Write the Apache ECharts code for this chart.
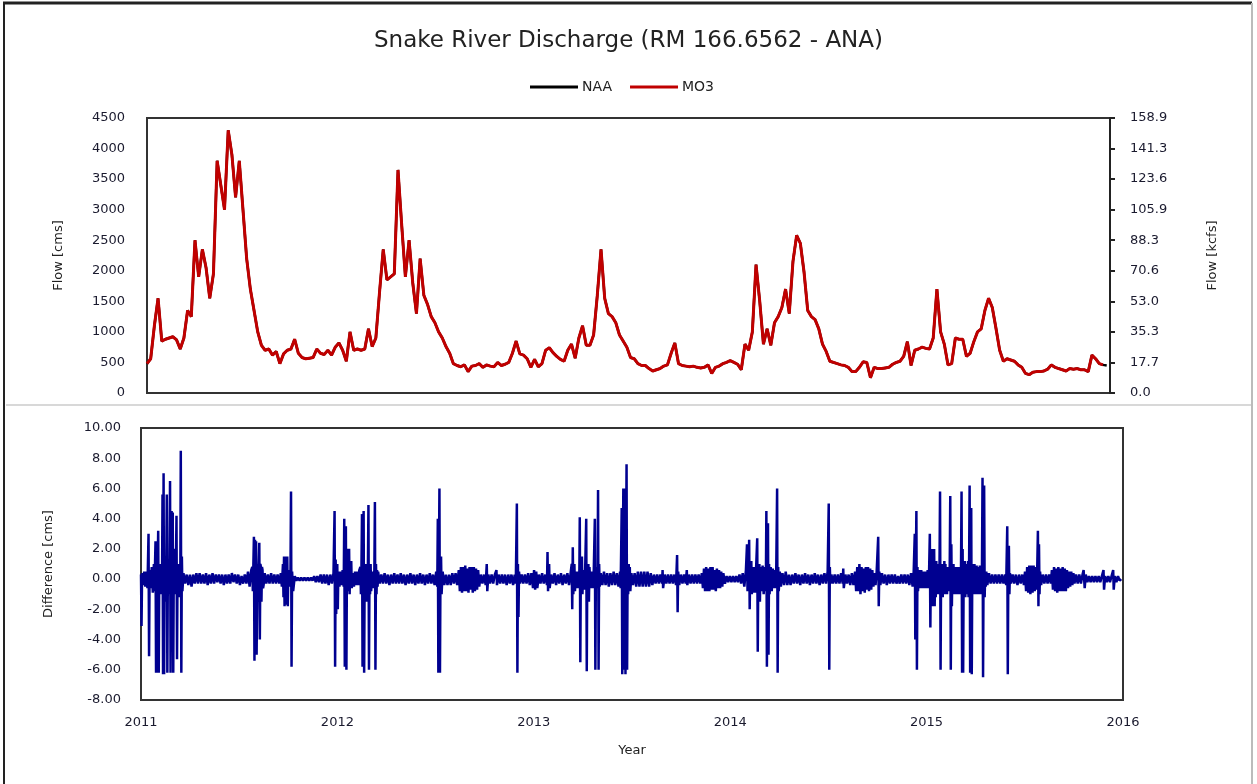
<!DOCTYPE html>
<html><head><meta charset="utf-8">
<script src="https://cdn.jsdelivr.net/npm/echarts@6/dist/echarts.min.js"></script>
<style>html,body{margin:0;padding:0;background:#fff}#c{width:1257px;height:784px}</style>
</head><body><div id="c"></div><script>
// ---- data ----
const startYear = 2011;
const yearTicks = [2011, 2012, 2013, 2014, 2015, 2016];
// weekly flow (cms) from 2011-01-01, MO3
const flowMO3 = [
480,560,1100,1550,850,880,900,920,870,720,
900,1350,1250,2500,1900,2350,2050,1550,1950,3800,
3400,3000,4300,3900,3200,3800,3000,2200,1700,1350,
1000,780,700,720,620,680,480,640,700,720,
880,650,580,560,570,580,720,650,630,700,
620,750,820,700,520,1000,700,720,700,720,
1050,760,900,1650,2350,1850,1900,1950,3650,2750,
1900,2500,1800,1300,2200,1600,1450,1250,1150,1000,
900,760,650,480,450,430,460,350,440,450,
480,420,460,440,430,500,450,470,500,650,
850,640,620,560,420,550,430,480,700,740,
660,600,550,520,700,800,570,900,1100,780,
780,950,1600,2350,1550,1300,1250,1150,950,850,
750,580,560,480,450,450,400,360,380,400,
440,460,650,820,480,450,440,430,440,420,
410,420,460,320,420,440,480,500,530,500,
470,380,800,700,1000,2100,1500,800,1050,780,
1150,1250,1400,1700,1300,2150,2580,2450,1980,1350,
1250,1200,1050,800,680,520,500,480,460,450,
420,350,350,420,510,500,250,420,400,400,
410,420,470,500,520,600,840,450,700,720,
750,730,720,900,1700,1000,800,460,480,900,
880,880,600,650,840,1000,1050,1350,1550,1400,
1060,700,520,560,540,520,460,420,320,300,
340,350,350,360,390,460,420,400,380,360,
400,390,400,380,380,350,620,560,480,460
];
// NAA is hidden under MO3 except for its last point
const flowNAA = flowMO3.concat([450]);
// difference (cms): [day since 2011-01-01, value]
const diffPoints = [
[0,0.3],[1,-3.1],[2,0.4],[4,-0.4],[6,0.5],[8,-0.5],[10,0.5],[12,-0.6],[14,3.0],[15,-5.1],[16,0.6],[18,-0.6],[20,0.8],[22,-0.9],[24,1.0],[25,-0.8],
[27,2.5],[28,-6.2],[29,2.0],[30,-6.2],[31,1.0],[32,3.2],[33,-6.2],[34,1.0],[35,-1.0],[36,1.0],[37,-1.0],[38,0.8],[39,-1.0],
[40,5.6],[41,-6.3],[42,7.0],[43,-6.3],[44,1.0],[45,1.5],[46,-1.5],[47,1.0],[48,5.6],[49,-6.2],[50,1.0],[51,1.2],[52,-1.0],[53,1.0],
[54,6.5],[55,-6.2],[56,1.0],[57,4.5],[58,-2.5],[59,4.4],[60,-6.2],[61,1.0],[62,-1.0],[63,2.0],[64,-1.0],[65,1.0],[66,4.2],[67,-5.3],[68,1.0],[69,-1.0],
[70,1.0],[71,-1.2],[72,0.8],[73,-0.8],[74,8.5],[75,-6.2],[76,1.5],[77,-0.8],
[79,0.4],[82,-0.3],[85,0.3],[88,-0.4],[91,0.3],[94,-0.5],[97,0.3],[100,-0.3],[103,0.4],[106,-0.3],[109,0.4],[112,-0.3],[115,0.3],[118,-0.3],[121,0.4],[124,-0.4],[127,0.3],[130,-0.3],[133,0.4],[136,-0.3],[139,0.3],[142,-0.2],[145,0.3],[148,-0.3],[151,0.3],[154,-0.4],[157,0.3],[160,-0.3],[163,0.3],[166,-0.3],[169,0.4],[172,-0.2],[175,0.3],[178,-0.3],[181,0.3],[184,-0.4],[187,0.2],[190,-0.3],[193,0.3],[196,-0.3],[199,0.5],[202,-0.5],[205,0.6],
[207,0.8],[208,-0.8],[209,1.0],[210,2.8],[211,-5.4],[212,2.6],[213,-4.0],[214,2.5],[215,-5.0],[216,-1.0],[217,1.0],[218,-1.5],[219,1.0],[220,2.4],[221,-4.0],[222,1.0],[223,0.8],[224,-1.5],[225,0.8],[226,0.6],[227,-0.6],[228,-0.4],
[230,0.4],[233,-0.3],[236,0.3],[239,-0.3],[242,0.4],[245,-0.3],[248,0.3],[251,-0.3],[254,0.3],[257,-0.3],[260,0.4],[262,-0.5],
[264,1.0],[265,-1.2],[266,1.5],[267,-1.8],[268,1.5],[269,-1.7],[270,1.4],[271,-1.0],[272,1.5],[273,-1.8],[274,0.6],[275,-0.5],[276,0.5],[277,-0.4],[278,0.5],[279,5.8],[280,-5.8],[281,0.5],[282,0.5],[283,-0.8],
[286,0.2],[289,-0.1],[292,0.1],[295,-0.1],[298,0.1],[301,-0.1],[304,0.1],[307,-0.1],[310,0.1],[313,-0.1],[316,0.1],[319,-0.1],[322,0.2],[325,-0.2],[328,0.2],[331,-0.2],[334,0.3],[337,-0.3],[340,0.3],[343,-0.3],[346,0.3],[349,-0.4],[352,0.3],[355,-0.3],[358,0.4],
[360,4.5],[361,-5.8],[362,1.3],[363,-2.3],[364,0.6],[365,1.0],[366,-2.0],[367,0.5],[369,-0.5],[371,0.5],[373,-0.4],[375,0.6],[377,-0.5],[378,4.0],[379,-5.8],[380,1.0],[381,3.5],[382,-6.0],[383,1.0],[384,2.0],[385,-0.8],[386,0.8],[387,2.0],[388,-1.0],[389,0.8],[390,-0.6],[391,1.2],[392,-0.6],[394,0.4],[396,-0.5],[398,0.5],[400,-0.4],[402,0.5],[404,-0.4],[406,0.6],
[408,0.8],[409,-1.0],[410,0.8],[411,4.3],[412,-5.8],[413,1.0],[414,4.5],[415,-6.2],[416,0.8],[417,-1.0],[418,1.0],[419,-1.5],[420,0.6],[421,-0.6],[422,0.8],[423,4.9],[424,-6.0],[425,1.0],[426,-1.0],[427,1.0],[428,-0.8],[430,0.5],[432,-0.6],[434,0.6],[435,5.1],[436,-6.0],[437,1.0],[438,-1.0],[439,0.6],[440,-0.5],[441,0.5],
[444,-0.3],[447,0.3],[450,-0.3],[453,0.4],[456,-0.3],[459,0.3],[462,-0.4],[465,0.3],[468,-0.3],[471,0.4],[474,-0.3],[477,0.3],[480,-0.3],[483,0.4],[486,-0.3],[489,0.3],[492,-0.4],[495,0.3],[498,-0.3],[501,0.4],[504,-0.3],[507,0.3],[510,-0.4],[513,0.3],[516,-0.3],[519,0.4],[522,-0.3],[525,0.3],[528,-0.4],[531,0.3],[534,-0.3],[537,0.4],[540,-0.3],[543,0.3],[546,-0.4],[549,0.5],
[551,-0.5],[552,4.0],[553,-6.2],[554,1.0],[555,6.0],[556,-6.2],[557,1.0],[558,1.5],[559,-1.0],
[561,0.5],[564,-0.4],[567,0.3],[570,-0.4],[573,0.3],[576,-0.4],[579,0.4],[582,-0.3],[585,0.4],[588,-0.4],[591,0.6],
[593,-0.8],[595,0.8],[597,-0.9],[599,0.8],[601,-0.8],[603,0.9],[605,-0.8],[607,0.7],[609,-0.9],[611,0.8],[613,-0.7],[615,0.8],[617,-0.9],[619,0.8],[621,-0.8],[623,0.7],[625,-0.7],[627,0.6],[629,-0.5],
[632,0.3],[635,-0.3],[638,0.3],[641,-0.4],[643,1.0],[644,-0.8],[646,0.3],[649,-0.3],[652,0.3],[655,-0.3],[658,0.3],[661,0.6],[662,-0.4],[665,0.3],[668,-0.3],[671,0.3],[674,-0.3],[677,0.3],[680,-0.4],[683,0.3],[686,-0.3],[689,0.3],[692,-0.4],[695,0.3],[697,-0.3],
[699,5.0],[700,-6.2],[701,1.0],[702,-2.5],[703,0.5],
[705,-0.3],[708,0.3],[711,-0.3],[714,0.3],[717,-0.3],[720,0.4],[723,-0.4],[726,0.4],[729,-0.6],[731,0.6],[733,-0.7],[735,0.5],[737,-0.6],[740,0.3],[743,-0.3],[746,0.4],[749,-0.3],[752,0.3],[755,-0.4],[756,1.8],[757,-0.8],[758,0.6],[759,1.0],[760,-0.6],[763,0.3],[766,-0.3],[769,0.4],[772,-0.4],[775,0.3],[778,-0.3],[781,0.4],[784,-0.4],[787,0.3],[790,-0.3],[793,0.4],[796,-0.4],[799,0.4],
[801,1.0],[802,-2.0],[803,2.1],[804,-1.0],[805,0.6],[806,1.0],[807,-0.8],[809,0.5],[811,-0.6],[813,0.5],[815,-0.6],
[816,4.1],[817,-5.5],[818,0.8],[819,-1.0],[820,1.5],[821,-1.0],[822,0.6],[824,-0.7],[826,0.6],
[828,4.0],[829,-6.1],[830,0.8],[831,-1.0],[832,1.0],[833,-1.5],[834,0.8],[836,-0.6],[838,0.5],[840,-0.6],[842,0.5],
[844,4.0],[845,-6.0],[846,0.8],[847,-0.6],[848,0.6],[849,-0.5],[850,5.9],[851,-6.0],[852,1.0],[853,-0.5],
[855,0.4],[858,-0.4],[861,0.5],[864,-0.4],[867,0.4],[870,-0.5],[873,0.4],[876,-0.4],[879,0.5],[882,-0.4],[885,0.4],[888,-0.5],[891,0.5],[892,-0.6],
[894,4.7],[895,-6.3],[896,1.0],[897,6.0],[898,-6.0],[899,1.0],[900,6.0],[901,-6.3],[902,1.0],[903,7.6],[904,-6.0],[905,0.8],[906,-1.0],[907,1.0],[908,-0.8],[909,0.8],[910,-0.8],
[912,0.4],[915,-0.4],[918,0.4],[921,-0.5],[924,0.5],[927,-0.5],[930,0.5],[933,-0.5],[936,0.5],[939,-0.5],[942,0.5],[945,-0.5],[948,0.4],[951,-0.4],[954,0.3],[957,-0.3],[960,0.3],[963,-0.3],[966,0.3],[969,-0.3],[970,0.6],[971,-0.6],[974,0.3],[977,-0.3],[980,0.3],[983,-0.3],[986,0.3],[989,-0.3],[992,0.3],[995,-0.4],
[997,1.6],[998,-2.2],[999,0.5],[1001,-0.4],
[1004,0.3],[1007,-0.3],[1010,0.3],[1013,-0.3],[1015,0.6],[1016,-0.4],[1019,0.3],[1022,-0.3],[1025,0.3],[1028,-0.3],[1031,0.3],[1034,-0.3],[1037,0.3],[1040,-0.3],[1043,0.4],
[1045,-0.6],[1047,0.7],[1049,-0.8],[1051,0.8],[1053,-0.8],[1055,0.7],[1057,-0.8],[1059,0.8],[1061,-0.7],[1063,0.8],[1065,-0.7],[1067,0.6],[1069,-0.8],[1071,0.7],[1073,-0.6],[1075,0.6],[1077,-0.6],[1079,0.5],[1081,-0.5],[1083,0.4],
[1086,-0.3],[1089,0.2],[1092,-0.2],[1095,0.2],[1098,-0.2],[1101,0.2],[1104,-0.2],[1107,0.2],[1110,-0.2],[1113,0.3],[1116,-0.3],[1119,0.4],[1122,-0.5],[1125,0.6],
[1127,2.3],[1128,-0.8],[1129,0.8],[1130,-0.8],[1131,2.6],[1132,-2.0],[1133,0.8],[1134,-0.8],[1135,1.2],[1136,-1.0],[1137,0.8],[1139,-0.9],[1141,0.8],[1143,-0.9],[1144,0.8],
[1146,2.7],[1147,-4.8],[1148,0.8],[1149,-1.0],[1150,1.0],[1151,-1.5],[1152,0.8],[1154,-0.8],[1156,0.9],[1158,-1.0],[1160,0.8],[1162,-0.8],
[1163,4.5],[1164,-5.8],[1165,0.8],[1166,3.7],[1167,-5.0],[1168,1.0],[1169,-1.0],[1171,0.8],[1173,-0.8],[1175,0.7],[1177,-0.6],[1179,0.6],[1181,-0.6],
[1183,6.0],[1184,-6.2],[1185,0.8],[1186,-0.8],[1188,0.5],
[1190,-0.5],[1193,0.4],[1196,-0.4],[1199,0.5],[1202,-0.4],[1205,0.3],[1208,-0.4],[1211,0.3],[1214,-0.3],[1217,0.4],[1220,-0.3],[1223,0.3],[1226,-0.4],[1229,0.3],[1232,-0.3],[1235,0.4],[1238,-0.3],[1241,0.3],[1244,-0.4],[1247,0.3],[1250,-0.3],[1253,0.4],[1256,-0.3],[1259,0.3],[1262,-0.4],[1265,0.3],[1268,-0.3],[1271,0.4],[1274,-0.3],[1277,0.5],
[1279,5.0],[1280,-6.0],[1281,0.8],[1282,-0.3],
[1284,0.3],[1287,-0.3],[1290,0.3],[1293,-0.3],[1296,0.3],[1299,-0.3],[1302,0.4],[1305,-0.3],[1306,0.7],[1307,-0.6],[1310,0.3],[1313,-0.3],[1316,0.3],[1319,-0.4],[1322,0.4],[1325,-0.4],[1328,0.5],
[1330,-0.8],[1332,0.8],[1334,-0.8],[1336,1.0],[1338,-1.0],[1340,0.8],[1342,-0.8],[1344,0.7],[1346,-0.9],[1348,0.8],[1350,-0.7],[1352,0.8],[1354,-0.8],[1356,0.7],[1358,-0.7],[1360,0.6],[1362,-0.5],[1364,0.4],[1366,-0.4],[1368,0.4],
[1371,2.8],[1372,-1.8],[1373,0.5],
[1375,-0.4],[1378,0.4],[1381,-0.3],[1384,0.3],[1387,-0.4],[1390,0.3],[1393,-0.3],[1396,0.3],[1399,-0.3],[1402,0.3],[1405,-0.3],[1408,0.2],[1411,-0.3],[1414,0.3],[1417,-0.3],[1420,0.3],[1423,-0.3],[1426,0.3],[1429,-0.4],[1432,0.4],[1435,-0.5],[1437,0.5],
[1439,3.0],[1440,-4.0],[1441,1.0],[1442,4.5],[1443,-6.0],[1444,0.8],[1445,-0.8],[1447,0.6],[1449,-0.6],[1451,0.6],[1453,-0.6],[1455,0.5],[1457,-0.6],[1459,0.5],[1461,-0.6],[1463,0.6],[1465,-0.6],
[1467,3.0],[1468,-3.2],[1469,1.0],[1470,-1.8],[1471,2.0],[1472,-1.8],[1473,1.5],[1474,-1.5],[1475,2.0],[1476,-1.8],[1477,1.0],[1478,-1.2],[1479,1.2],[1480,-1.0],[1481,1.0],[1482,-1.0],[1483,1.0],[1484,-1.0],[1485,0.8],
[1486,5.8],[1487,-6.0],[1488,0.8],[1489,-0.8],[1490,1.0],[1491,-1.2],[1492,1.0],[1493,-1.0],[1494,1.2],[1495,-0.8],[1496,1.0],[1497,-1.0],[1498,0.8],[1499,-1.0],[1500,0.8],[1501,-0.8],[1502,0.8],[1503,-0.8],[1504,0.8],
[1505,5.5],[1506,-6.0],[1507,2.3],[1508,-1.8],[1509,0.8],[1510,-0.8],[1511,1.0],[1512,-1.0],[1513,0.8],[1514,-1.0],[1515,0.8],[1516,-1.0],[1517,0.8],[1518,-0.8],[1519,0.8],[1520,-1.0],[1521,0.8],[1522,-1.0],[1523,0.8],[1524,-0.8],[1525,0.8],
[1526,5.8],[1527,-6.2],[1528,2.0],[1529,-6.2],[1530,1.0],[1531,-1.0],[1532,1.2],[1533,-1.2],[1534,1.0],[1535,-1.0],[1536,1.0],[1537,-1.0],[1538,1.2],[1539,-1.2],[1540,0.8],
[1541,6.2],[1542,-6.2],[1543,1.0],[1544,4.7],[1545,-6.3],[1546,1.0],[1547,-1.0],[1548,1.0],[1549,-1.0],[1550,1.0],[1551,-1.0],[1552,0.8],[1553,-0.9],[1554,0.9],[1555,-1.0],[1556,0.8],[1557,-1.0],[1558,0.8],[1559,-0.9],[1560,0.9],[1561,-1.0],[1562,0.8],[1563,-0.8],[1564,0.8],
[1565,6.7],[1566,-6.5],[1567,1.0],[1568,6.2],[1569,-1.2],[1570,0.5],[1571,-0.5],[1572,0.5],
[1574,-0.4],[1577,0.4],[1580,-0.3],[1583,0.3],[1586,-0.3],[1589,0.3],[1592,-0.3],[1595,0.3],[1598,-0.3],[1601,0.3],[1604,-0.3],[1607,0.3],[1609,-0.4],
[1611,3.5],[1612,-6.3],[1613,0.8],[1614,2.2],[1615,-1.0],[1616,0.4],
[1618,-0.3],[1621,0.3],[1624,-0.3],[1627,0.3],[1630,-0.4],[1633,0.3],[1636,-0.3],[1639,0.3],[1642,-0.4],[1644,0.5],
[1646,-0.8],[1648,0.8],[1650,-0.9],[1652,0.9],[1654,-1.0],[1656,0.9],[1658,-0.9],[1660,0.9],[1662,-0.8],[1664,0.8],[1666,-0.7],
[1668,3.2],[1669,-1.8],[1670,2.3],[1671,-1.0],[1672,0.5],
[1674,-0.4],[1677,0.3],[1680,-0.3],[1683,0.3],[1686,-0.3],[1689,0.3],[1692,-0.3],
[1694,0.6],[1696,-0.7],[1698,0.8],[1700,-0.8],[1702,0.7],[1704,-0.9],[1706,0.8],[1708,-0.8],[1710,0.7],[1712,-0.8],[1714,0.8],[1716,-0.8],[1718,0.7],[1720,-0.8],[1722,0.6],[1724,-0.6],[1726,0.5],[1728,-0.5],[1730,0.5],[1732,-0.4],[1734,0.4],[1736,-0.3],
[1739,0.3],[1742,-0.3],[1745,0.3],[1748,-0.3],[1751,0.3],[1753,0.6],[1755,-0.6],[1757,0.3],[1760,-0.2],[1763,0.2],[1766,-0.2],[1769,0.2],[1772,-0.2],[1775,0.2],[1778,-0.2],[1781,0.2],[1784,-0.2],[1787,0.2],[1790,0.6],[1791,-0.7],[1793,0.2],[1796,-0.2],[1799,0.2],[1802,-0.2],[1805,0.2],[1808,0.6],[1809,-0.7],[1811,0.2],[1814,-0.2],[1817,0.2],[1820,-0.1],[1823,0.0]
];
const CMS_TO_KCFS = 0.0353147;

// ---- build ----
const weekToYear = i => startYear + i * 7 / 365.25;
const dayToYear = d => startYear + d / 365.25;
const mo3Data = flowMO3.map((v, i) => [weekToYear(i), v]);
const naaData = flowNAA.map((v, i) => [weekToYear(i), v]);
const diffData = diffPoints.map(p => [dayToYear(p[0]), p[1]]);

const FONT = 'DejaVu Sans';
const labelStyle = {fontFamily: FONT, fontSize: 13, color: '#1a1a2e'};
const nameStyle = {fontFamily: FONT, fontSize: 13, color: '#222'};

const chart = echarts.init(document.getElementById('c'), null, {renderer: 'canvas'});
chart.setOption({
  animation: false,
  backgroundColor: '#fff',
  title: {
    text: 'Snake River Discharge (RM 166.6562 - ANA)',
    left: 'center', top: 25,
    textStyle: {fontFamily: FONT, fontSize: 23, fontWeight: 'normal', color: '#222'}
  },
  legend: {
    data: ['NAA', 'MO3'],
    top: 75, left: 525,
    icon: 'rect', itemWidth: 48, itemHeight: 3, itemGap: 18,
    textStyle: {fontFamily: FONT, fontSize: 14, color: '#222', padding: [0, 0, 0, -1]}
  },
  grid: [
    {left: 147, top: 118, width: 963, height: 275, show: true, borderColor: '#333', borderWidth: 2},
    {left: 141, top: 428, width: 982, height: 272, show: true, borderColor: '#333', borderWidth: 2}
  ],
  xAxis: [
    {gridIndex: 0, type: 'value', min: 2011, max: 2016, interval: 1,
     axisLine: {show: false}, axisTick: {show: false}, axisLabel: {show: false}, splitLine: {show: false}},
    {gridIndex: 1, type: 'value', min: 2011, max: 2016, interval: 1,
     axisLine: {show: false}, axisTick: {show: false}, splitLine: {show: false},
     axisLabel: Object.assign({margin: 16, formatter: v => yearTicks.includes(v) ? String(v) : ''}, labelStyle),
     name: 'Year', nameLocation: 'middle', nameGap: 44, nameTextStyle: nameStyle}
  ],
  yAxis: [
    {gridIndex: 0, type: 'value', min: 0, max: 4500, interval: 500,
     axisLine: {show: false}, axisTick: {show: false}, splitLine: {show: false},
     axisLabel: Object.assign({margin: 22, formatter: v => String(v)}, labelStyle),
     name: 'Flow [cms]', nameLocation: 'middle', nameGap: 82, nameTextStyle: nameStyle},
    {gridIndex: 0, type: 'value', position: 'right', min: 0, max: 4500, interval: 500,
     axisLine: {show: true, lineStyle: {color: '#222', width: 2}},
     axisTick: {show: true, length: 5, lineStyle: {color: '#222', width: 2}},
     splitLine: {show: false},
     axisLabel: Object.assign({margin: 20, formatter: v => (v * CMS_TO_KCFS).toFixed(1)}, labelStyle),
     name: 'Flow [kcfs]', nameLocation: 'middle', nameGap: 96, nameTextStyle: nameStyle},
    {gridIndex: 1, type: 'value', min: -8, max: 10, interval: 2,
     axisLine: {show: false}, axisTick: {show: false}, splitLine: {show: false},
     axisLabel: Object.assign({margin: 20, formatter: v => v.toFixed(2)}, labelStyle),
     name: 'Difference [cms]', nameLocation: 'middle', nameGap: 86, nameTextStyle: nameStyle}
  ],
  series: [
    {name: 'NAA', type: 'line', xAxisIndex: 0, yAxisIndex: 0, data: naaData, showSymbol: false,
     color: '#000', lineStyle: {color: '#000', width: 2.5}},
    {name: 'MO3', type: 'line', xAxisIndex: 0, yAxisIndex: 0, data: mo3Data, showSymbol: false,
     color: '#C00000', lineStyle: {color: '#C00000', width: 3}},
    {name: 'Difference', type: 'line', xAxisIndex: 1, yAxisIndex: 2, data: diffData, showSymbol: false,
     color: '#000090', lineStyle: {color: '#000090', width: 2.5}}
  ],
  graphic: [
    {type: 'line', shape: {x1: 3, y1: 3, x2: 1252, y2: 3}, style: {stroke: '#222', lineWidth: 3}, silent: true},
    {type: 'line', shape: {x1: 4, y1: 3, x2: 4, y2: 784}, style: {stroke: '#222', lineWidth: 2}, silent: true},
    {type: 'line', shape: {x1: 1252, y1: 3, x2: 1252, y2: 784}, style: {stroke: '#bbb', lineWidth: 2}, silent: true},
    {type: 'line', shape: {x1: 6, y1: 405, x2: 1251, y2: 405}, style: {stroke: '#d8d8d8', lineWidth: 2}, silent: true}
  ]
});
</script></body></html>
